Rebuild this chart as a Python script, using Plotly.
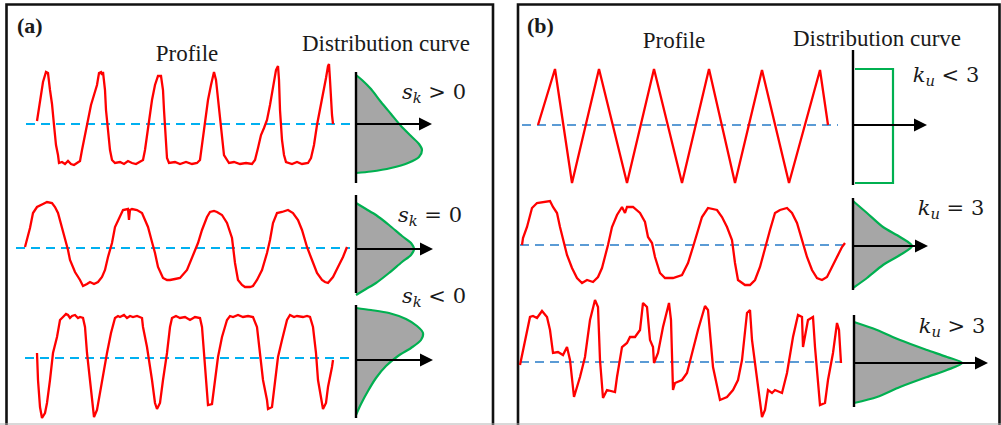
import plotly.graph_objects as go

# ---------------- DATA ----------------
# Profiles: t = distance along the profile from its first point, h = height above the mean line
a1_t = [0,3,6,9,11,13,15,17,19,21,22,25,28,31,34,37,40,43,45,47,49,51,54,57,60,62,64,65,66,68,69,71,73,75,78,83,87,91,95,99,103,106,108,110,112,115,118,121,124,126,127,129,130,132,138,143,149,155,160,163,165,167,169,171,174,177,179,181,183,185,187,192,197,203,209,215,218,221,224,227,230,233,236,239,241,242,243,245,247,249,255,260,265,271,274,277,280,283,286,289,291,292,293,294,295,296]
a1_h = [3,24,42,52,51,34,20,-1,-21,-31,-39,-38,-40,-37,-40,-41,-39,-37,-26,-16,-4,6,19,29,39,51,52,49,52,34,14,-6,-26,-36,-39,-38,-40,-37,-39,-40,-38,-36,-26,-11,4,24,39,48,48,34,14,-16,-34,-39,-38,-40,-38,-40,-39,-36,-21,-6,9,24,39,52,44,24,4,-16,-31,-39,-38,-40,-39,-40,-36,-24,-11,-4,4,19,36,54,58,44,14,-16,-31,-38,-40,-38,-40,-39,-34,-21,-1,14,29,46,58,60,44,24,9,0]

a2_t = [0,3,5,8,12,18,22,27,30,33,35,37,40,43,45,50,55,58,62,65,69,73,77,80,83,87,90,95,98,103,104,105,107,112,117,120,123,127,130,133,138,142,145,150,155,162,168,173,177,182,185,189,192,197,202,207,210,213,217,220,225,228,232,237,242,245,248,252,257,263,268,273,277,282,287,292,297,300,303,308,313,318,322]
a2_h = [1,11,20,35,41,44,46,45,41,35,28,21,8,-2,-12,-24,-32,-38,-36,-34,-36,-34,-29,-22,-9,5,21,31,38,39,28,38,39,38,35,28,21,6,-5,-19,-30,-32,-32,-31,-30,-22,-7,5,18,31,36,37,36,33,25,10,-15,-32,-37,-39,-39,-38,-32,-22,-5,8,25,35,36,38,35,28,18,1,-12,-25,-32,-34,-35,-29,-19,-9,1]

a3_t = [0,1,3,5,8,10,13,16,20,23,26,29,31,33,35,38,41,43,46,48,50,53,56,57,60,63,66,70,74,78,81,83,87,90,93,96,100,105,106,110,115,118,120,123,126,130,133,135,139,143,148,153,158,163,165,167,170,171,175,178,181,185,190,193,196,201,206,211,216,220,223,226,230,231,235,238,241,245,250,253,257,260,266,270,273,276,279,281,285,286,289,291,295,296]
a3_h = [5,-22,-49,-60,-55,-45,-22,5,21,38,41,44,43,40,42,43,40,41,40,31,5,-22,-52,-59,-52,-35,-15,5,25,40,42,41,43,40,42,41,42,40,31,11,-22,-45,-51,-45,-22,5,31,40,42,40,41,38,41,40,31,5,-29,-47,-46,-22,1,21,38,42,41,43,41,42,41,31,5,-22,-42,-51,-49,-22,1,18,38,43,41,42,41,42,41,31,5,-22,-45,-51,-45,-29,-9,-2]

b1_t = [0,17,34,61,89,116,144,171,197,224,251,282,290]
b1_h = [0,56,-58,56,-58,56,-58,56,-58,55,-58,55,0]

b2_t = [0,1,5,10,15,21,28,31,35,38,41,45,50,55,60,65,71,76,80,83,86,90,95,100,103,105,111,118,123,126,130,133,138,143,151,160,166,171,176,180,186,195,200,205,210,213,216,223,228,233,238,243,248,253,258,265,270,275,280,285,290,295,300,305,310,315,320,323]
b2_h = [0,7,18,37,42,43,44,38,32,18,5,-10,-23,-33,-38,-35,-37,-32,-23,-12,0,18,30,38,32,38,38,32,23,8,2,-12,-28,-33,-33,-30,-18,-2,15,28,37,35,28,18,5,-18,-35,-40,-40,-35,-22,-2,15,32,35,37,32,22,5,-12,-25,-33,-35,-32,-22,-12,-2,2]

b3_t = [0,5,10,13,17,22,27,30,32,33,38,43,47,50,54,60,65,70,75,78,80,83,87,95,97,102,107,110,115,120,123,127,130,133,134,138,143,149,151,153,155,162,167,178,185,188,193,200,207,213,218,222,227,230,232,237,242,245,248,252,255,262,267,273,278,282,283,288,293,295,298,300,305,308,313,317,319,321]
b3_h = [-3,22,45,46,44,51,45,32,15,9,10,7,15,2,-35,-15,5,42,62,55,2,-36,-28,-30,-15,15,19,25,25,32,59,55,22,15,-1,9,35,59,42,-28,-21,-18,-11,32,56,52,-5,-38,-35,-28,-18,2,49,52,22,-18,-55,-48,-28,-31,-28,-31,-11,25,47,45,15,42,45,15,-18,-43,-41,-18,9,39,32,-1]

# Distribution curves: w = distance out from the vertical axis, v = height above the arrow
da1_w = [0,6,15,25,35,45,55,63,66,63,52,35,15,0]
da1_v = [49,44,35,22,10,-2,-12,-20,-26,-33,-39,-44,-47.5,-49]
da2_w = [0,10,20,33,46,55,58,55,46,33,20,10,0]
da2_v = [46,40,34,24,13,6,0,-6,-13,-24,-34,-40,-46]
da3_w = [0,15,33,50,61,67,65,55,42,30,20,12,5,0]
da3_v = [52,50,47,41,34,27,20,12,4,-6,-18,-31,-44,-55]
db1_w = [2,40,40,2]
db1_v = [56,56,-58,-58]
db2_w = [0,14,30,47,59,47,30,14,0]
db2_v = [45,33,19,9,0,-9,-19,-32,-42]
db3_w = [0,23,46,73,93,108,93,73,46,23,0]
db3_v = [41,33,23,13,6,0,-7,-14,-24,-34,-40]

panel_labels = ["(a)", "(b)"]
header_profile = "Profile"
header_dist = "Distribution curve"
stat_labels = [
    "<i>s</i><sub><i>k</i></sub> &gt; 0",
    "<i>s</i><sub><i>k</i></sub> = 0",
    "<i>s</i><sub><i>k</i></sub> &lt; 0",
    "<i>k</i><sub><i>u</i></sub> &lt; 3",
    "<i>k</i><sub><i>u</i></sub> = 3",
    "<i>k</i><sub><i>u</i></sub> &gt; 3",
]

# ---------------- LAYOUT / STYLE ----------------
W, H = 1001, 425
RED = "#ff0000"
BLUE_A = "#00b0f0"
BLUE_B = "#5b9bd5"
GREEN = "#00b050"
GRAY = "#a6a6a6"
TXT = "#1a1a1a"
SERIF = "Liberation Serif"
MATH = "DejaVu Serif"

rows = [
    dict(t=a1_t, h=a1_h, x0=37, ym=124, dash=(26, 350), dcol=BLUE_A, ax=356, ay=124, span=(52, 59), alen=76,
         w=da1_w, v=da1_v, fill=True, lab=stat_labels[0], lx=434, ly=93),
    dict(t=a2_t, h=a2_h, x0=25, ym=248, dash=(16, 350), dcol=BLUE_A, ax=356, ay=249, span=(54, 44), alen=77,
         w=da2_w, v=da2_v, fill=True, lab=stat_labels[1], lx=430, ly=216),
    dict(t=a3_t, h=a3_h, x0=37, ym=358, dash=(25, 350), dcol=BLUE_A, ax=356, ay=360, span=(55, 58), alen=77,
         w=da3_w, v=da3_v, fill=True, lab=stat_labels[2], lx=434, ly=297),
    dict(t=b1_t, h=b1_h, x0=538, ym=125, dash=(522, 838), dcol=BLUE_B, ax=853, ay=125, span=(75, 60), alen=74,
         w=db1_w, v=db1_v, fill=False, lab=stat_labels[3], lx=946, ly=76),
    dict(t=b2_t, h=b2_h, x0=522, ym=245, dash=(520, 845), dcol=BLUE_B, ax=853, ay=246, span=(48, 44), alen=75,
         w=db2_w, v=db2_v, fill=True, lab=stat_labels[4], lx=951, ly=209),
    dict(t=b3_t, h=b3_h, x0=520, ym=362, dash=(520, 842), dcol=BLUE_B, ax=854, ay=363, span=(48, 44), alen=134,
         w=db3_w, v=db3_v, fill=True, lab=stat_labels[5], lx=952, ly=327),
]

fig = go.Figure()

def line(xs, ys, color, width, dash=None, shape="linear"):
    fig.add_trace(go.Scatter(x=xs, y=ys, mode="lines", hoverinfo="skip",
                             line=dict(color=color, width=width, dash=dash, shape=shape)))

annotations = []
def text(x, y, s, family, size, bw, xanchor="center"):
    annotations.append(dict(x=x, y=y, text=s, showarrow=False, xref="x", yref="y",
                            xanchor=xanchor, yanchor="middle", width=bw, height=int(size * 1.35),
                            align="left" if xanchor == "left" else "center", valign="middle",
                            font=dict(family=family, size=size, color=TXT)))

# panel frames
line([6.5, 6.5, 493, 493], [440, 4.5, 4.5, 440], "#111111", 2.6)
line([518, 518, 999.5, 999.5], [440, 4.5, 4.5, 440], "#111111", 2.6)
line([0, W], [424, 424], "#b4b4b4", 1.2)

HEAD_L, HEAD_H = 13, 6.5
for r in rows:
    line([r["dash"][0], r["dash"][1]], [r["ym"], r["ym"]], r["dcol"], 2.2, dash="9px,6px")
    line([r["x0"] + t for t in r["t"]], [r["ym"] - h for h in r["h"]], RED, 2.3)
    dx = [r["ax"] + w for w in r["w"]]
    dy = [r["ay"] - v for v in r["v"]]
    if r["fill"]:
        fig.add_trace(go.Scatter(x=dx, y=dy, mode="lines", fill="toself", fillcolor=GRAY,
                                 line=dict(width=0, shape="spline", smoothing=0.8, color=GRAY), hoverinfo="skip"))
        fig.add_trace(go.Scatter(x=dx, y=dy, mode="lines", hoverinfo="skip",
                                 line=dict(color=GREEN, width=2.2, shape="spline", smoothing=0.8)))
    else:
        line(dx, dy, GREEN, 2.2)
    line([r["ax"], r["ax"]], [r["ay"] - r["span"][0], r["ay"] + r["span"][1]], "#000000", 2.4)
    tip = r["ax"] + r["alen"]
    line([r["ax"], tip - HEAD_L + 1], [r["ay"], r["ay"]], "#000000", 2.2)
    fig.add_trace(go.Scatter(x=[tip - HEAD_L, tip, tip - HEAD_L, tip - HEAD_L],
                             y=[r["ay"] - HEAD_H, r["ay"], r["ay"] + HEAD_H, r["ay"] - HEAD_H],
                             mode="lines", fill="toself", fillcolor="#000000",
                             line=dict(width=0, color="#000000"), hoverinfo="skip"))
    text(r["lx"], r["ly"], r["lab"], MATH, 21, 80)

text(15, 25, "<b>%s</b>" % panel_labels[0], SERIF, 22, 34, "left")
text(525, 25, "<b>%s</b>" % panel_labels[1], SERIF, 22, 34, "left")
text(187, 53, header_profile, SERIF, 23, 80)
text(386, 43, header_dist, SERIF, 23, 180)
text(674, 40, header_profile, SERIF, 23, 80)
text(877, 38, header_dist, SERIF, 23, 180)

fig.update_layout(
    width=W, height=H, margin=dict(l=0, r=0, t=0, b=0),
    font=dict(family=SERIF, size=22, color=TXT),
    paper_bgcolor="white", plot_bgcolor="white", showlegend=False,
    xaxis=dict(range=[0, W], visible=False, fixedrange=True),
    yaxis=dict(range=[H, 0], visible=False, fixedrange=True),
    annotations=annotations,
)
fig.write_html("out.html", config={"displayModeBar": False})
